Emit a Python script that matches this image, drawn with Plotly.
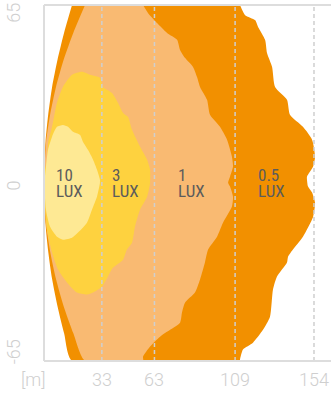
import plotly.graph_objects as go

# isolux contours, distance [m] along x, lateral offset [m] along y
# 0.5 lux: outer left edge (top -> bottom) then right edge (bottom -> top)
lux05_x = [16.0, 11.5, 7.7, 4.6, 2.4, 0.85, 0.1, 0.0, 0.1, 0.85, 2.4, 4.6, 7.7, 11.5, 16.0,
           111.8, 111.8, 113.5, 119.2, 124.9, 128.9, 130.6, 132.9, 138.6, 139.2, 142.0, 147.7,
           153.5, 154.6, 152.9, 150.6, 150.0, 150.0, 153.5, 154.6, 152.9, 147.7, 140.3, 138.6,
           131.8, 130.1, 127.2, 126.1, 122.1, 120.4, 114.7, 111.8]
lux05_y = [65, 55, 45, 35, 25, 15, 5, 0, -5, -15, -25, -35, -45, -55, -65,
           -65, -64.5, -60.8, -58.3, -53.6, -48.8, -38.9, -34.1, -29.0, -26.9, -24.3, -19.6,
           -12.3, -7.2, -3.5, -1.3, 1.2, 2.3, 6.0, 9.6, 15.8, 20.5, 24.9, 30.4,
           35.1, 42.4, 47.5, 52.3, 57.0, 59.5, 61.3, 65]

# 1 lux
lux1_x = [23.4, 16.8, 11.2, 6.8, 3.5, 1.2, 0.3, 0.2, 0.3, 1.2, 3.5, 6.8, 11.2, 16.8, 23.4,
          56.5, 56.5, 60.5, 66.2, 71.9, 77.6, 78.7, 80.4, 86.1, 89.0, 91.8, 93.6, 98.7, 102.1,
          107.2, 107.8, 106.1, 105.0, 106.1, 107.8, 107.2, 104.4, 100.4, 94.7, 93.0, 89.0,
          87.3, 85.0, 80.4, 77.6, 75.9, 70.2, 64.5, 59.3, 56.5]
lux1_y = [65, 55, 45, 35, 25, 15, 5, 0, -5, -15, -25, -35, -45, -55, -65,
          -65, -63.4, -59.7, -56.1, -53.6, -51.0, -47.3, -43.7, -40.0, -35.2, -29.0, -24.3, -19.6, -14.5,
          -8.6, -5.0, -1.3, 0.1, 2.3, 6.0, 9.6, 15.8, 20.5, 24.9, 30.4, 35.1,
          38.7, 42.4, 45.7, 48.6, 52.3, 54.8, 58.4, 62.1, 65]

# 3 lux
lux3_x = [21.7, 26.2, 31.9, 33.7, 38.8, 42.2, 45.1, 47.9, 50.2, 54.8, 58.8, 60.5, 60.5,
          58.8, 54.8, 51.9, 50.2, 47.3, 45.1, 39.4, 36.5, 33.1, 28.0, 24.5, 18.8, 13.1,
          8.0, 4.6, 1.7, 0.6, 0.3, 0.6, 1.7, 2.3, 4.6, 7.4, 10.8, 16.0, 21.7]
lux3_y = [40.6, 39.5, 38.4, 35.1, 32.9, 29.3, 25.6, 24.2, 19.4, 13.2, 8.5, 4.9, 0,
          -5.0, -9.7, -15.9, -21.8, -24.3, -28.0, -30.9, -34.1, -37.8, -40.0, -40.7, -40.0, -36.3,
          -31.6, -25.4, -17.0, -8.6, 0, 5.0, 8.5, 14.7, 20.5, 29.3, 35.1, 39.5, 40.6]

# 10 lux
lux10_x = [10.8, 13.7, 16.5, 20.5, 22.2, 25.1, 28.0, 30.2, 31.9, 31.9, 30.2, 27.4, 24.5,
           19.4, 16.0, 10.8, 7.4, 3.4, 1.1, 0.3, 1.1, 2.3, 4.6, 7.4, 10.8]
lux10_y = [21.2, 20.5, 18.7, 17.6, 15.1, 12.1, 8.5, 4.9, 1.2, 0, -5.0, -9.7, -14.5,
           -18.1, -20.0, -20.7, -19.6, -15.9, -9.7, 0, 5.8, 12.1, 16.9, 20.5, 21.2]

grid_x = [33, 63, 109, 154]
label_text = ["10", "3", "1", "0.5"]
label_x = [5.8, 37.8, 75.4, 121.1]

colors = ["#F29000", "#F9BA72", "#FED23F", "#FEE994"]

fig = go.Figure()
for (xs, ys), color in zip([(lux05_x, lux05_y), (lux1_x, lux1_y),
                            (lux3_x, lux3_y), (lux10_x, lux10_y)], colors):
    fig.add_trace(go.Scatter(
        x=xs, y=ys, mode="lines", fill="toself", fillcolor=color,
        line=dict(width=0, color=color, shape="spline", smoothing=0.6),
        hoverinfo="skip", showlegend=False
    ))

# dashed distance markers, drawn over the fills
for gx in grid_x:
    fig.add_shape(type="line", xref="x", yref="y", x0=gx, x1=gx, y0=-65, y1=65,
                  line=dict(color="#cfcfcf", width=1.5, dash="4px,3px"), layer="above")

for txt, lx in zip(label_text, label_x):
    for line_txt, ly in [(txt, 2.8), ("LUX", -2.8)]:
        fig.add_annotation(x=lx, y=ly, text=line_txt, showarrow=False,
                           xanchor="left", yanchor="middle",
                           font=dict(family="Liberation Sans Narrow, Roboto Condensed, sans-serif",
                                     size=17, color="#5c5c5c"))

tick_font = dict(family="Roboto, sans-serif", size=18, color="#cfcfcf", weight=300)
for gx in grid_x:
    fig.add_annotation(x=gx, xref="x", y=-0.053, yref="paper", text=str(gx),
                       showarrow=False, xanchor="center", yanchor="middle", font=tick_font)
fig.add_annotation(x=-0.038, xref="paper", y=-0.053, yref="paper", text="[m]",
                   showarrow=False, xanchor="center", yanchor="middle", font=tick_font)
for txt, ty in [("65", 62.1), ("0", -1.0), ("-65", -61.5)]:
    fig.add_annotation(x=-0.105, xref="paper", y=ty, yref="y", text=txt, textangle=-90,
                       showarrow=False, xanchor="center", yanchor="middle", font=tick_font)

# frame: left, top, bottom
frame = dict(color="#dddddd", width=2)
fig.add_shape(type="line", xref="paper", yref="paper", x0=0, x1=0, y0=0, y1=1, line=frame, layer="above")
fig.add_shape(type="line", xref="paper", yref="paper", x0=0, x1=1, y0=1, y1=1, line=frame, layer="above")
fig.add_shape(type="line", xref="paper", yref="paper", x0=0, x1=1, y0=0, y1=0, line=frame, layer="above")

fig.update_layout(
    width=331, height=394,
    margin=dict(l=44, r=0, t=5, b=33),
    plot_bgcolor="white", paper_bgcolor="white",
    xaxis=dict(range=[0, 163.7], showgrid=False, zeroline=False, showticklabels=False, fixedrange=True),
    yaxis=dict(range=[-65, 65], showgrid=False, zeroline=False, showticklabels=False, fixedrange=True),
)

# page body has a default 8px margin; drop it so the chart fills the window
fig.write_html("out.html", config={"displayModeBar": False},
               post_script="document.body.style.margin='0';")
